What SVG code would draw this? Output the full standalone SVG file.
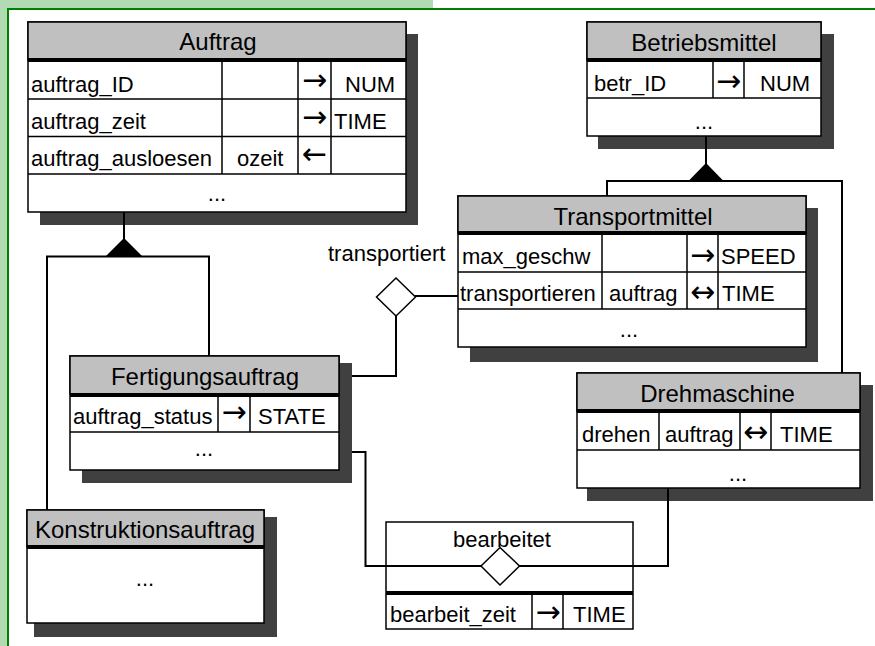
<svg xmlns="http://www.w3.org/2000/svg" width="875" height="646" viewBox="0 0 875 646">
<style>
text{font-family:"Liberation Sans",Arial,sans-serif;font-size:22px;fill:#000}
.c{text-anchor:middle}
.h{text-anchor:middle;font-size:24px}
.ar{font-family:"DejaVu Sans",sans-serif;font-size:30px;text-anchor:middle}
.sh{fill:#404040}
.box{fill:#fff;stroke:#000;stroke-width:1.5}
.rel{fill:none;stroke:#000;stroke-width:1.5}
.hdr{fill:#c0c0c0;stroke:#000;stroke-width:1.5}
.sep{stroke:#000;stroke-width:4}
.ln{stroke:#000;stroke-width:1.5;fill:none}
.con{stroke:#000;stroke-width:2;fill:none}
.tri{fill:#000}
.dia{fill:#fff;stroke:#000;stroke-width:1.5}
</style>
<g id="frame">
<rect x="0" y="0" width="433" height="8" fill="#b3dbb3"/>
<rect x="0" y="0" width="7" height="646" fill="#b3dbb3"/>
<path d="M8,646V9H875" fill="none" stroke="#008000" stroke-width="2"/>
</g>
<g id="auftrag">
<rect class="sh" x="40" y="34" width="378" height="191"/>
<rect class="box" x="28" y="22" width="378" height="190"/>
<rect class="hdr" x="28" y="22" width="378" height="38"/>
<line class="sep" x1="28" y1="60" x2="406" y2="60"/>
<path class="ln" d="M28,99H406M28,136.5H406M28,174H406M222,62V174M298,62V174M331,62V174"/>
<text class="h" x="218" y="50">Auftrag</text>
<text x="31" y="92">auftrag_ID</text>
<text x="31" y="129">auftrag_zeit</text>
<text x="31" y="166">auftrag_ausloesen</text>
<text x="237" y="166">ozeit</text>
<text x="345" y="92">NUM</text>
<text x="334" y="129">TIME</text>
<text class="ar" x="314.5" y="90">→</text>
<text class="ar" x="314.5" y="127">→</text>
<text class="ar" x="314.5" y="164">←</text>
<text class="c" x="217" y="201">...</text>
</g>
<g id="betriebsmittel">
<rect class="sh" x="598" y="34" width="236" height="115"/>
<rect class="box" x="587" y="22" width="234" height="114"/>
<rect class="hdr" x="587" y="22" width="234" height="38"/>
<line class="sep" x1="587" y1="60" x2="821" y2="60"/>
<path class="ln" d="M587,98H821M713,62V98M744,62V98"/>
<text class="h" x="704" y="51">Betriebsmittel</text>
<text x="594" y="91">betr_ID</text>
<text x="760" y="91">NUM</text>
<text class="ar" x="728.5" y="91">→</text>
<text class="c" x="704" y="129">...</text>
</g>
<g id="transportmittel">
<rect class="sh" x="470" y="208" width="348" height="154"/>
<rect class="box" x="458" y="196" width="348" height="151"/>
<rect class="hdr" x="458" y="196" width="348" height="37"/>
<line class="sep" x1="458" y1="233" x2="806" y2="233"/>
<path class="ln" d="M458,272H806M458,309H806M602,235V309M687,235V309M718,235V309"/>
<text class="h" x="633" y="225">Transportmittel</text>
<text x="462" y="264">max_geschw</text>
<text x="460" y="301">transportieren</text>
<text x="609" y="301">auftrag</text>
<text x="721" y="264">SPEED</text>
<text x="722" y="301">TIME</text>
<text class="ar" x="702.5" y="265">→</text>
<text class="ar" x="702.5" y="302">↔</text>
<text class="c" x="629" y="337">...</text>
</g>
<g id="fertigungsauftrag">
<rect class="sh" x="82" y="363" width="270" height="120"/>
<rect class="box" x="70" y="356" width="269" height="114"/>
<rect class="hdr" x="70" y="356" width="269" height="38"/>
<line class="sep" x1="70" y1="395" x2="339" y2="395"/>
<path class="ln" d="M70,432H339M218,396V432M250,396V432"/>
<text class="h" x="205" y="385">Fertigungsauftrag</text>
<text x="73" y="424">auftrag_status</text>
<text x="258" y="424">STATE</text>
<text class="ar" x="234" y="422">→</text>
<text class="c" x="204" y="456">...</text>
</g>
<g id="konstruktionsauftrag">
<rect class="sh" x="34" y="517" width="243" height="120"/>
<rect class="box" x="27" y="510" width="237" height="113"/>
<rect class="hdr" x="27" y="510" width="237" height="37"/>
<line class="sep" x1="27" y1="547" x2="264" y2="547"/>
<text class="h" x="145" y="538">Konstruktionsauftrag</text>
<text class="c" x="145" y="586">...</text>
</g>
<g id="drehmaschine">
<rect class="sh" x="587" y="385" width="286" height="116"/>
<rect class="box" x="577" y="373" width="283" height="115"/>
<rect class="hdr" x="577" y="373" width="283" height="38"/>
<line class="sep" x1="577" y1="411" x2="860" y2="411"/>
<path class="ln" d="M577,450H860M659,413V450M740,413V450M771,413V450"/>
<text class="h" x="717.5" y="402">Drehmaschine</text>
<text x="582" y="442">drehen</text>
<text x="665" y="442">auftrag</text>
<text x="780" y="442">TIME</text>
<text class="ar" x="755.5" y="442">↔</text>
<text class="c" x="738" y="481">...</text>
</g>
<g id="connectors">
<path class="con" d="M124,212V240M47,510V256.5H209V356"/>
<polygon class="tri" points="124,238 143,257 105,257"/>
<path class="con" d="M706,136V165M607,196V181H842V373"/>
<polygon class="tri" points="706,163 724,181.5 688,181.5"/>
<path class="con" d="M352,376H396V316M415,296H458"/>
<path class="con" d="M352,452H365.5V566H668V488"/>
</g>
<g id="transportiert">
<polygon class="dia" points="396,278 415.5,297 396,316 376.5,297"/>
<text x="328" y="261">transportiert</text>
</g>
<g id="bearbeitet">
<rect class="rel" x="386" y="522" width="247" height="107"/>
<line class="sep" x1="386" y1="593" x2="633" y2="593"/>
<path class="ln" d="M532,595V629M563,595V629"/>
<text class="c" x="502" y="547">bearbeitet</text>
<polygon class="dia" points="500,547.5 519.5,566 500,585 481,566"/>
<text x="390" y="622">bearbeit_zeit</text>
<text x="573" y="622">TIME</text>
<text class="ar" x="548" y="622">→</text>
</g>
</svg>
